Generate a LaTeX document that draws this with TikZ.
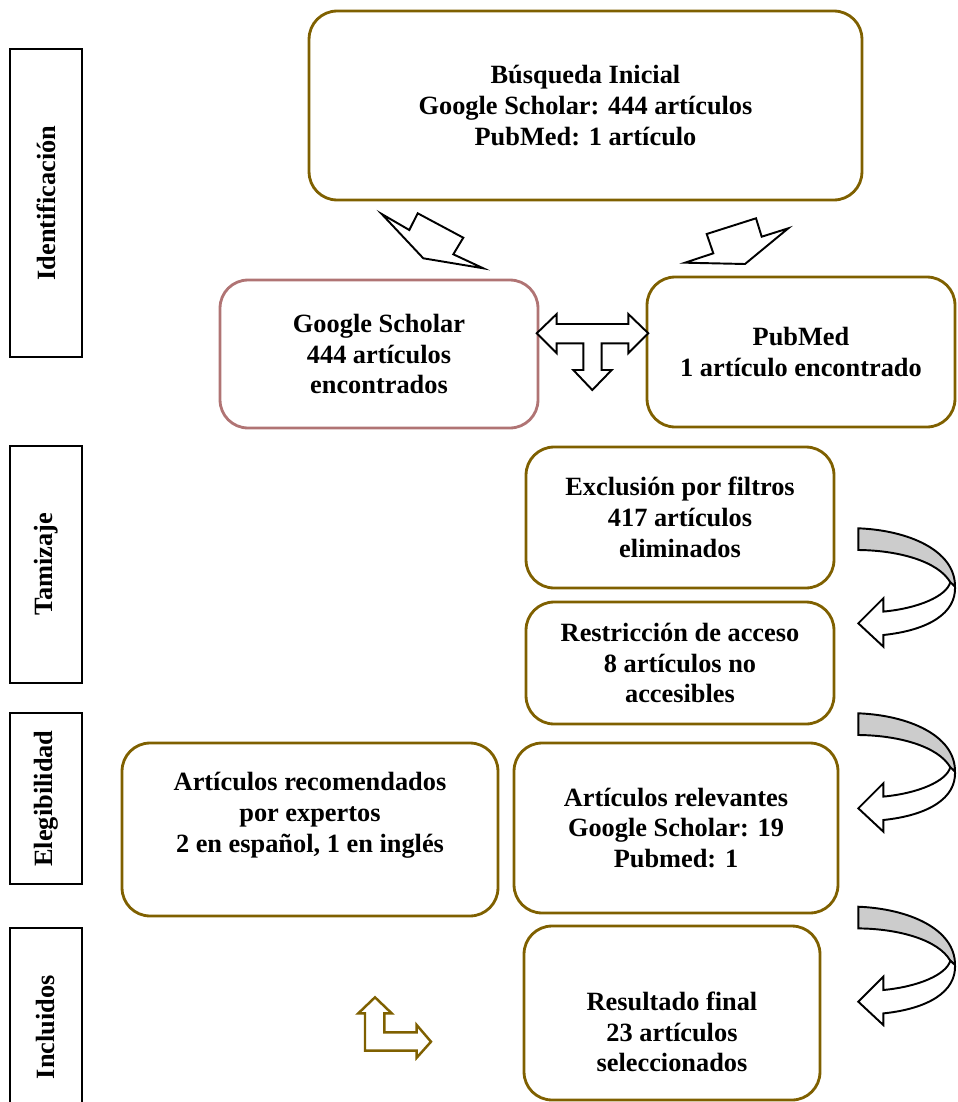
\documentclass[tikz,border=0pt]{standalone}
\usepackage{fontspec}
\setmainfont{Liberation Serif}
\usepackage{xcolor}
\usepackage{tikz}
\usetikzlibrary{positioning}

\definecolor{olivebrd}{RGB}{127,96,0}
\definecolor{rosebrd}{RGB}{176,116,116}
\definecolor{ribbongray}{RGB}{204,204,204}

\begin{document}
\begin{tikzpicture}[x=0.02cm, y=-0.02cm,
    box/.style={draw=olivebrd, line width=1.6pt, rounded corners=0.56cm,
        align=center, inner sep=0pt, font=\bfseries\fontsize{15}{17.5}\selectfont},
    txt/.style={align=center, inner sep=0pt, font=\bfseries\fontsize{15}{17.5}\selectfont},
    phase/.style={draw=black, line width=0.7pt, rotate=90, minimum height=1.44cm,
        inner sep=0pt, font=\bfseries\fontsize{15}{17.5}\selectfont},
    blockarrow/.style={draw=black, fill=white, line width=1.1pt, line join=miter},
    bentarrow/.style={draw=olivebrd, fill=white, line width=1.4pt, line join=miter}]

    \useasboundingbox (0,0) rectangle (957,1102);

    % Phase labels
    \node[phase, minimum width=6.16cm] (iden) at (46,203) {Identificación};
    \node[phase, minimum width=4.74cm] (tam) at (46,564.5) {Tamizaje};
    \node[phase, minimum width=3.42cm] (eleg) at (46,798.5) {Elegibilidad};
    \node[phase, minimum width=3.96cm] (incl) at (46,1027) {Incluidos};

    % Boxes
    \node[box, minimum width=11.06cm, minimum height=3.78cm] (init) at (585.5,105.5)
        {Búsqueda Inicial\\Google Scholar: 444 artículos\\PubMed: 1 artículo};
    \node[box, draw=rosebrd, minimum width=6.36cm, minimum height=2.96cm] (gs) at (379,354)
        {Google Scholar\\444 artículos\\encontrados};
    \node[box, minimum width=6.16cm, minimum height=3.0cm] (pm) at (801,352)
        {PubMed\\1 artículo encontrado};
    \node[box, minimum width=6.16cm, minimum height=2.82cm] (excl) at (680,517.5)
        {Exclusión por filtros\\417 artículos\\eliminados};
    \node[box, minimum width=6.16cm, minimum height=2.44cm] (restr) at (680,663)
        {Restricción de acceso\\8 artículos no\\accesibles};
    \node[box, minimum width=7.52cm, minimum height=3.46cm] (recom) at (310,829.5) {};
    \node[txt] (recomT) at (310,815)
        {Artículos recomendados\\por expertos\\2 en español, 1 en inglés};
    \node[box, minimum width=6.48cm, minimum height=3.4cm] (relev) at (676,828)
        {Artículos relevantes\\Google Scholar: 19\\Pubmed: 1};
    \node[box, minimum width=5.92cm, minimum height=3.48cm] (final) at (672,1013) {};
    \node[txt] (finalT) at (672,1032)
        {Resultado final\\23 artículos\\seleccionados};

    % Block arrows from the initial search
    \draw[blockarrow] (381.7,214) -- (409.3,230) -- (417.7,213.3) -- (463.3,237.7)
        -- (453.3,254.3) -- (483.3,268.3) -- (423.3,258.3) -- cycle;
    \draw[blockarrow] (706.7,234) -- (756,218.3) -- (761.7,236.7) -- (788.3,228.3)
        -- (745,264) -- (685,262.7) -- (713.3,253.3) -- cycle;

    % Three-way arrow between the sources
    \draw[blockarrow] (536.7,333.3) -- (556.7,314) -- (556.7,324) -- (628.3,324)
        -- (628.3,314) -- (648.3,333.3) -- (628.3,353.3) -- (628.3,343.3)
        -- (601.7,343.3) -- (601.7,370) -- (611.7,370) -- (592.3,390)
        -- (573.3,370) -- (583.3,370) -- (583.3,343.3) -- (556.7,343.3)
        -- (556.7,353.3) -- cycle;

    % Curved arrows on the right
    \foreach \dy in {0,185,378.4} {
        \begin{scope}[shift={(858.3,528.3+\dy)}]
            \draw[fill=ribbongray, line width=1.1pt] (0,0) .. controls (50,2) and (97,22) .. (96.7,58.3)
                -- (92,54) .. controls (80,33) and (40,22) .. (0,21.7) -- cycle;
            \draw[blockarrow] (96.7,58.3) .. controls (98,85) and (70,102) .. (25,106.7)
                -- (25,118.3) -- (0,95) -- (25,70) -- (25,83.3)
                .. controls (60,80) and (88,68) .. (92,54) -- cycle;
        \end{scope}
    }

    % Bent arrow
    \draw[bentarrow] (375,997.3) -- (391.7,1013.3) -- (384.3,1013.3) -- (384.3,1032.3)
        -- (416.7,1032.3) -- (416.7,1025) -- (431,1041.7) -- (416.7,1057.7)
        -- (416.7,1050.7) -- (365,1050.7) -- (365,1013.3) -- (358.3,1013.3) -- cycle;
\end{tikzpicture}
\end{document}
